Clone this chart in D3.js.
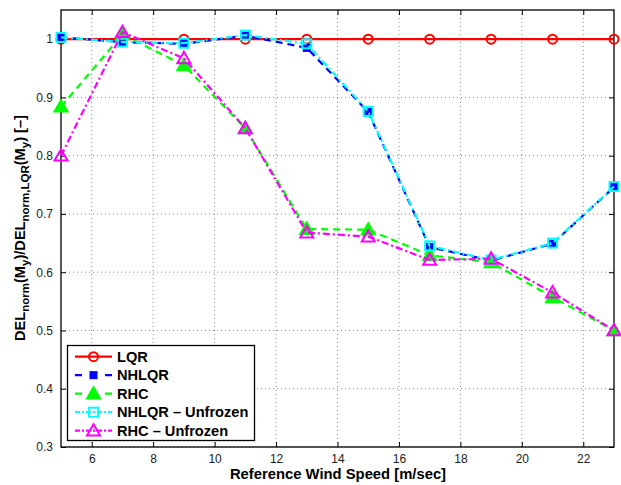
<!DOCTYPE html>
<html><head><meta charset="utf-8">
<script src="https://cdn.jsdelivr.net/npm/d3@7"></script>
<style>body{margin:0;background:#fff}</style>
</head><body>
<svg id="c" width="621" height="485"></svg>
<script>
const windSpeed = [5, 7, 9, 11, 13, 15, 17, 19, 21, 23];
const lqr       = [1, 1, 1, 1, 1, 1, 1, 1, 1, 1];
const nhlqr     = [1.003, 0.995, 0.992, 1.006, 0.985, 0.875, 0.643, 0.620, 0.649, 0.746];
const rhc       = [0.884, 1.008, 0.955, 0.847, 0.674, 0.673, 0.629, 0.617, 0.557, 0.500];
const nhlqrU    = [1.003, 0.995, 0.993, 1.007, 0.992, 0.876, 0.645, 0.621, 0.650, 0.747];
const rhcU      = [0.800, 1.012, 0.967, 0.847, 0.668, 0.661, 0.621, 0.623, 0.565, 0.500];
const seriesNames = ["LQR", "NHLQR", "RHC", "NHLQR \u2013 Unfrozen", "RHC \u2013 Unfrozen"];
const xTicks = [6, 8, 10, 12, 14, 16, 18, 20, 22];
const yTicks = [0.3, 0.4, 0.5, 0.6, 0.7, 0.8, 0.9, 1.0];

const styles = [
  {color:"#ff0000", dash:null, marker:"circle", fill:"none"},
  {color:"#0000ff", dash:"7,5", marker:"square", fill:"#0000ff"},
  {color:"#00ff00", dash:"7,5", marker:"triangle", fill:"#00ff00"},
  {color:"#00ffff", dash:"7,3,2,3", marker:"square", fill:"none"},
  {color:"#ff00ff", dash:"7,3,2,3", marker:"triangle", fill:"none"}
];
const allSeries = [lqr, nhlqr, rhc, nhlqrU, rhcU];

const svg = d3.select("#c");
const L = 61, R = 614, T = 10, B = 447;
const x = d3.scaleLinear().domain([5, 23]).range([L, R]);
const y = d3.scaleLinear().domain([0.3, 1.05]).range([B, T]);
const font = "'Liberation Sans', Arial, Helvetica, sans-serif";

// grid
const g = svg.append("g");
g.selectAll(".gx").data(xTicks).enter().append("line")
  .attr("x1", d => x(d)).attr("x2", d => x(d)).attr("y1", T).attr("y2", B)
  .attr("stroke", "#888").attr("stroke-width", 1).attr("stroke-dasharray", "1,3");
g.selectAll(".gy").data(yTicks).enter().append("line")
  .attr("x1", L).attr("x2", R).attr("y1", d => y(d)).attr("y2", d => y(d))
  .attr("stroke", "#888").attr("stroke-width", 1).attr("stroke-dasharray", "1,3");

// axes (ticks inward)
const ax = svg.append("g").attr("font-family", font);
const xAxis = d3.axisBottom(x).tickValues(xTicks).tickSize(-5).tickPadding(7).tickFormat(d3.format("d"));
const yAxis = d3.axisLeft(y).tickValues(yTicks).tickSize(-5).tickPadding(8).tickFormat(d => d === 1 ? "1" : d3.format(".1f")(d));
ax.append("g").attr("transform", `translate(0,${B})`).call(xAxis);
ax.append("g").attr("transform", `translate(${L},0)`).call(yAxis);
ax.append("g").attr("transform", `translate(0,${T})`).call(d3.axisTop(x).tickValues(xTicks).tickSize(-5).tickFormat(""));
ax.append("g").attr("transform", `translate(${R},0)`).call(d3.axisRight(y).tickValues(yTicks).tickSize(-5).tickFormat(""));
ax.selectAll(".domain").remove();
ax.selectAll(".tick line").attr("stroke", "#000");
ax.selectAll(".tick text").attr("font-size", 12).attr("fill", "#222");
svg.append("rect").attr("x", L).attr("y", T).attr("width", R - L).attr("height", B - T)
  .attr("fill", "none").attr("stroke", "#000").attr("stroke-width", 1.3);

// markers
function drawMarker(sel, kind, cx, cy, s) {
  if (kind === "circle") {
    sel.append("circle").attr("cx", cx).attr("cy", cy).attr("r", 4.5)
      .attr("fill", "none").attr("stroke", s.color).attr("stroke-width", 2);
  } else if (kind === "square") {
    if (s.fill === "none") {
      sel.append("rect").attr("x", cx - 4.5).attr("y", cy - 4.5).attr("width", 9).attr("height", 9)
        .attr("fill", "none").attr("stroke", s.color).attr("stroke-width", 2);
    } else {
      sel.append("rect").attr("x", cx - 3.5).attr("y", cy - 3.5).attr("width", 7).attr("height", 7)
        .attr("fill", s.fill).attr("stroke", s.color).attr("stroke-width", 1);
    }
  } else {
    const h = 6.5;
    const p = [[cx, cy - h], [cx - h, cy + h * 0.75], [cx + h, cy + h * 0.75]];
    sel.append("path").attr("d", "M" + p.map(q => q.join(",")).join("L") + "Z")
      .attr("fill", s.fill).attr("stroke", s.color).attr("stroke-width", 2).attr("stroke-linejoin", "miter");
  }
}

const line = d3.line().x(d => x(d[0])).y(d => y(d[1]));
allSeries.forEach((vals, i) => {
  const s = styles[i];
  const pts = windSpeed.map((w, j) => [w, vals[j]]);
  const sg = svg.append("g");
  sg.append("path").datum(pts).attr("d", line).attr("fill", "none")
    .attr("stroke", s.color).attr("stroke-width", 2.2)
    .attr("stroke-dasharray", s.dash);
  pts.forEach(p => drawMarker(sg, s.marker, x(p[0]), y(p[1]), s));
});

// legend
const lg = svg.append("g");
lg.append("rect").attr("x", 67.5).attr("y", 345.5).attr("width", 187).attr("height", 95)
  .attr("fill", "#fff").attr("stroke", "#000").attr("stroke-width", 1.3);
seriesNames.forEach((name, i) => {
  const s = styles[i];
  const cy = 356.7 + i * 18.5;
  lg.append("line").attr("x1", 75).attr("x2", 112).attr("y1", cy).attr("y2", cy)
    .attr("stroke", s.color).attr("stroke-width", 2.2)
    .attr("stroke-dasharray", s.dash ? (i < 3 ? "7,8" : "5,2,2,2") : null);
  drawMarker(lg, s.marker, 93.5, cy, s);
  lg.append("text").attr("x", 117).attr("y", cy + 5).text(name)
    .attr("font-family", font).attr("font-weight", "bold").attr("font-size", 14.6).attr("fill", "#000");
});

// axis labels
svg.append("text").attr("x", 338).attr("y", 479).attr("text-anchor", "middle")
  .attr("font-family", font).attr("font-weight", "bold").attr("font-size", 14.8)
  .text("Reference Wind Speed [m/sec]");
const yl = svg.append("text").attr("transform", "translate(25,228) rotate(-90)")
  .attr("text-anchor", "middle").attr("font-family", font).attr("font-weight", "bold").attr("font-size", 14.6);
yl.append("tspan").text("DEL");
yl.append("tspan").attr("font-size", 11.5).attr("dy", 4).text("norm");
yl.append("tspan").attr("dy", -4).text("(M");
yl.append("tspan").attr("font-size", 11.5).attr("dy", 4).text("y");
yl.append("tspan").attr("dy", -4).text(")/DEL");
yl.append("tspan").attr("font-size", 11.5).attr("dy", 4).text("norm,LQR");
yl.append("tspan").attr("dy", -4).text("(M");
yl.append("tspan").attr("font-size", 11.5).attr("dy", 4).text("y");
yl.append("tspan").attr("dy", -4).text(") [\u2013]");
</script>
</body></html>
